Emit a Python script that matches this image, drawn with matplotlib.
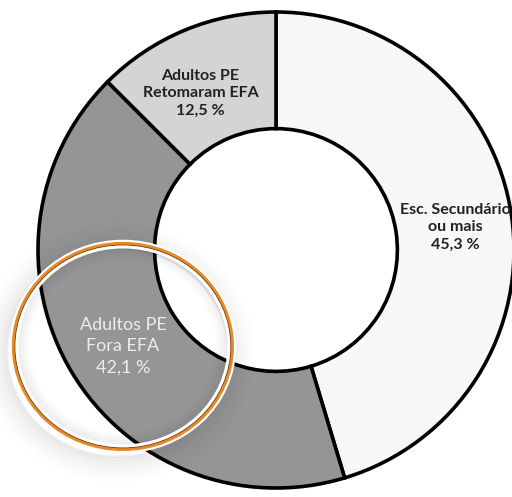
import matplotlib
matplotlib.use("Agg")
import matplotlib.pyplot as plt
from matplotlib.patches import Ellipse
import numpy as np

categories = ["Esc. Secundário\nou mais", "Adultos PE\nFora EFA", "Adultos PE\nRetomaram EFA"]
values = [45.3, 42.1, 12.5]
value_labels = ["45,3 %", "42,1 %", "12,5 %"]
colors = ["#f7f7f7", "#959595", "#d4d4d4"]
text_colors = ["#222222", "#ececec", "#222222"]
text_weights = ["bold", "normal", "bold"]
text_sizes = [11.5, 13, 11.5]
line_spacings = [1.3, 1.4, 1.3]
# small layout nudges of the labels (pixels, x right / y up)
label_nudge = [(5, -3), (-2, -6), (-8, -6)]
highlight = 1

W, H = 512, 497
fig = plt.figure(figsize=(W / 100, H / 100), dpi=100)
ax = fig.add_axes([0, 0, 1, 1])
R_px = 238.0
cx, cy = 276.0, 247.0

wedges, _ = ax.pie(values, colors=colors, startangle=90, counterclock=False,
                   radius=1.0, center=(0, 0), normalize=True, frame=True,
                   wedgeprops=dict(width=0.49, edgecolor="black", linewidth=2.6))
ax.set_xlim(-cx / R_px, (W - cx) / R_px)
ax.set_ylim(-cy / R_px, (H - cy) / R_px)
ax.set_aspect("auto")
ax.axis("off")

total = sum(values)
angle = 90.0
label_pos = []
for i, v in enumerate(values):
    span = v / total * 360.0
    mid = np.deg2rad(angle - span / 2)
    angle -= span
    r = 0.74
    x = r * np.cos(mid) + label_nudge[i][0] / R_px
    y = r * np.sin(mid) + label_nudge[i][1] / R_px
    label_pos.append((x, y))
    ax.text(x, y, categories[i] + "\n" + value_labels[i], ha="center", va="center",
            fontsize=text_sizes[i], fontweight=text_weights[i],
            color=text_colors[i], family=["Lato", "DejaVu Sans"],
            linespacing=line_spacings[i], zorder=5)

# highlight ring around the highlighted label
hx, hy = label_pos[highlight]
ew, eh = 218 / R_px, 205 / R_px
# soft outer shadow (down-left)
n = 18
for k in range(n):
    d = (k + 1) * 1.6 / R_px
    a = 0.06 * (1 - k / n) ** 1.5
    ax.add_patch(Ellipse((hx - 5 / R_px, hy - 6 / R_px), ew + 2 * d, eh + 2 * d,
                         fill=False, edgecolor="black", alpha=a, linewidth=1.8, zorder=6))
# soft inner shadow
for k in range(8):
    d = (k + 1) * 1.5 / R_px
    a = 0.05 * (1 - k / 8)
    ax.add_patch(Ellipse((hx, hy), ew - 2 * d - 6 / R_px, eh - 2 * d - 6 / R_px,
                         fill=False, edgecolor="black", alpha=a, linewidth=1.6, zorder=6))
ax.add_patch(Ellipse((hx, hy), ew + 5 / R_px, eh + 5 / R_px, fill=False, edgecolor="white", linewidth=2.5, zorder=7))
ax.add_patch(Ellipse((hx, hy), ew, eh, fill=False, edgecolor="#e58a2a", linewidth=3.0, zorder=8))
ax.add_patch(Ellipse((hx, hy), ew - 2.5 / R_px, eh - 2.5 / R_px, fill=False, edgecolor="#6e3506", linewidth=0.8, zorder=9))
ax.add_patch(Ellipse((hx, hy), ew - 6 / R_px, eh - 6 / R_px, fill=False, edgecolor="white", linewidth=2.2, zorder=9))

fig.savefig("out.png", dpi=100)
